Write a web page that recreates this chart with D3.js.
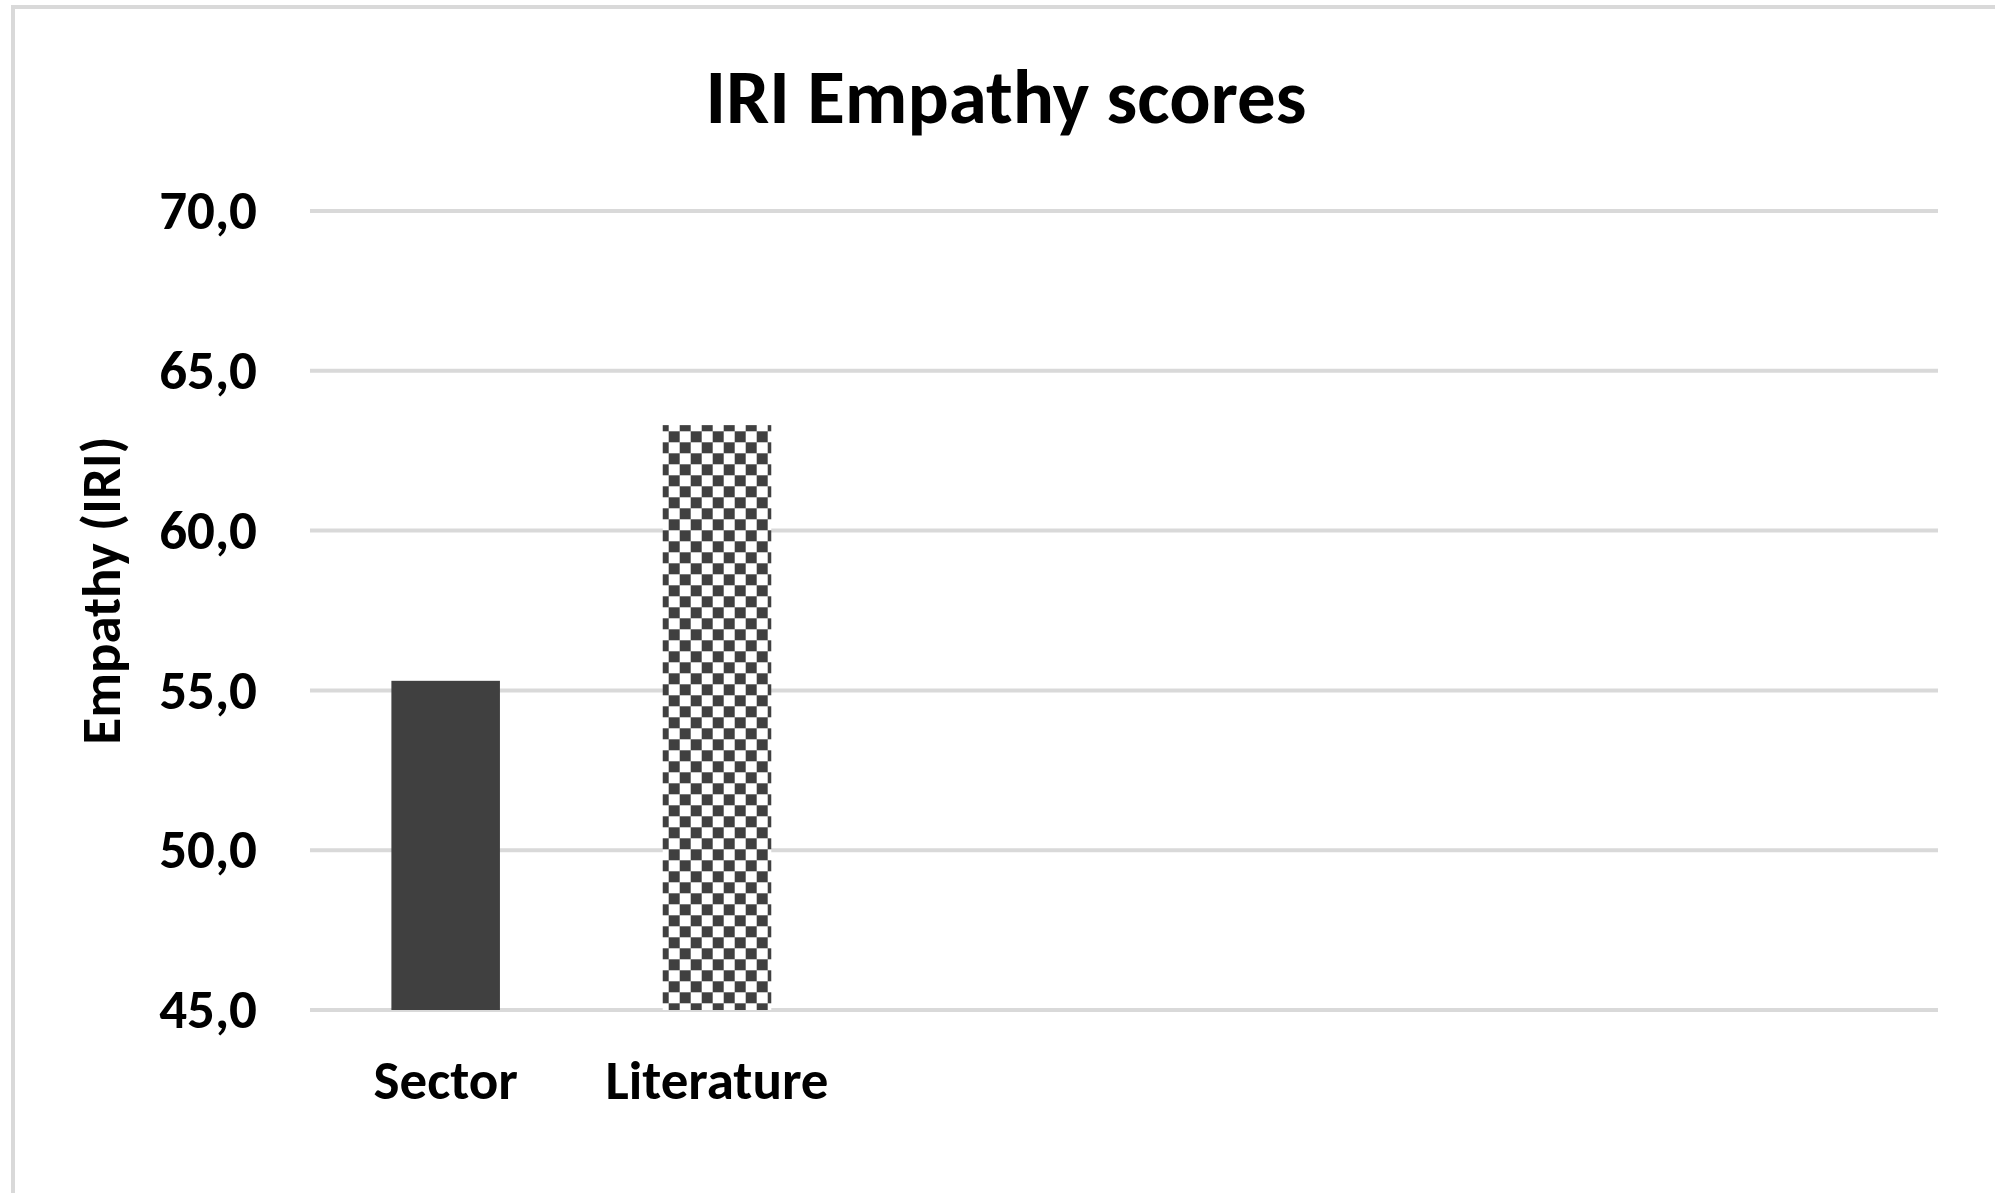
<!DOCTYPE html>
<html>
<head>
<meta charset="utf-8">
<script src="https://cdn.jsdelivr.net/npm/d3@7"></script>
<style>
  html, body { margin: 0; padding: 0; background: #fff; overflow: hidden; }
  text { font-family: Carlito, Calibri, Lato, sans-serif; font-weight: 700; fill: #000; }
</style>
</head>
<body>
<svg id="chart" width="1995" height="1193"></svg>
<script>
// chart values
const categories = ['Sector', 'Literature', '', '', '', ''];
const empathyScores = [55.3, 63.3];
const yTicks = [45, 50, 55, 60, 65, 70];
const title = 'IRI Empathy scores';
const yLabel = 'Empathy (IRI)';

const svg = d3.select('#chart');
const margin = { top: 211, right: 57, bottom: 183, left: 310 };
const width = 1995 - margin.left - margin.right;
const height = 1193 - margin.top - margin.bottom;

// outer frame (only left / top edges fall inside the picture)
svg.append('rect')
  .attr('x', 13).attr('y', 7)
  .attr('width', 2200).attr('height', 1400)
  .attr('fill', 'none')
  .attr('stroke', '#d9d9d9')
  .attr('stroke-width', 4);

// checker fill for the second bar
const pattern = svg.append('defs').append('pattern')
  .attr('id', 'checker')
  .attr('patternUnits', 'userSpaceOnUse')
  .attr('x', 6.7).attr('y', 0.3)
  .attr('width', 22).attr('height', 22);
pattern.append('rect').attr('width', 22).attr('height', 22).attr('fill', '#fff');
pattern.append('rect').attr('width', 11).attr('height', 11).attr('fill', '#404040');
pattern.append('rect').attr('x', 11).attr('y', 11).attr('width', 11).attr('height', 11).attr('fill', '#404040');

const chartArea = svg.append('g')
  .attr('transform', `translate(${margin.left}, ${margin.top})`);

const xScale = d3.scaleBand()
  .domain(d3.range(categories.length))
  .range([0, width])
  .paddingInner(0.6)
  .paddingOuter(0.3);

const yScale = d3.scaleLinear()
  .domain([45, 70])
  .range([height, 0]);

// gridlines
chartArea.append('g')
  .selectAll('line')
  .data(yTicks)
  .join('line')
  .attr('x1', 0).attr('x2', width)
  .attr('y1', d => yScale(d)).attr('y2', d => yScale(d))
  .attr('stroke', '#d9d9d9')
  .attr('stroke-width', 4);

// y axis labels
const yAxis = chartArea.append('g')
  .attr('transform', 'translate(-53, 0)')
  .call(d3.axisLeft(yScale)
    .tickValues(yTicks)
    .tickSize(0)
    .tickPadding(0)
    .tickFormat(d => d3.format('.1f')(d).replace('.', ',')));
yAxis.select('.domain').remove();
yAxis.selectAll('text')
  .attr('font-size', 55)
  .attr('dy', '0.32em')
  .style('font-family', null);

// bars
chartArea.append('g')
  .selectAll('rect')
  .data(empathyScores)
  .join('rect')
  .attr('x', (d, i) => xScale(i))
  .attr('y', d => yScale(d))
  .attr('width', xScale.bandwidth())
  .attr('height', d => yScale(45) - yScale(d))
  .attr('fill', (d, i) => i === 0 ? '#404040' : 'url(#checker)');

// x axis labels
const xAxis = chartArea.append('g')
  .attr('transform', `translate(0, ${height})`)
  .call(d3.axisBottom(xScale)
    .tickSize(0)
    .tickPadding(0)
    .tickFormat(i => categories[i]));
xAxis.select('.domain').remove();
xAxis.selectAll('text')
  .attr('font-size', 55)
  .attr('y', 89)
  .attr('dy', 0);

// title
svg.append('text')
  .attr('x', 1006)
  .attr('y', 123)
  .attr('text-anchor', 'middle')
  .attr('font-size', 77)
  .text(title);

// y axis title
svg.append('text')
  .attr('transform', `translate(120, ${margin.top + height / 2 - 20}) rotate(-90)`)
  .attr('text-anchor', 'middle')
  .attr('font-size', 55)
  .text(yLabel);
</script>
</body>
</html>
